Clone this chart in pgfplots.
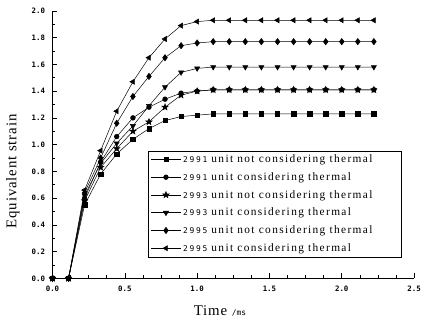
\documentclass[border=0pt]{standalone}
\usepackage{fontspec}
\setmainfont{Liberation Serif}
\newfontfamily\tickfont{DejaVu Sans Mono}
\newfontfamily\legnum{DejaVu Sans Mono}[LetterSpace=22]
\newfontfamily\legtext{Liberation Serif}[LetterSpace=12]
\newfontfamily\labfont{Liberation Serif}[LetterSpace=6]
\usepackage{pgfplots}
\pgfplotsset{compat=1.18}
\usetikzlibrary{plotmarks}

\pgfdeclareplotmark{fstar}{%
  \pgfpathmoveto{\pgfpointpolar{90}{\pgfplotmarksize}}%
  \pgfpathlineto{\pgfpointpolar{126}{0.42\pgfplotmarksize}}%
  \pgfpathlineto{\pgfpointpolar{162}{\pgfplotmarksize}}%
  \pgfpathlineto{\pgfpointpolar{198}{0.42\pgfplotmarksize}}%
  \pgfpathlineto{\pgfpointpolar{234}{\pgfplotmarksize}}%
  \pgfpathlineto{\pgfpointpolar{270}{0.42\pgfplotmarksize}}%
  \pgfpathlineto{\pgfpointpolar{306}{\pgfplotmarksize}}%
  \pgfpathlineto{\pgfpointpolar{342}{0.42\pgfplotmarksize}}%
  \pgfpathlineto{\pgfpointpolar{18}{\pgfplotmarksize}}%
  \pgfpathlineto{\pgfpointpolar{54}{0.42\pgfplotmarksize}}%
  \pgfpathclose
  \pgfusepathqfillstroke
}

\pgfplotstableread{
t      s1    s2    s3    s4    s5    s6
0.000  0.00  0.00  0.00  0.00  0.00  0.00
0.111  0.00  0.00  0.00  0.00  0.00  0.00
0.222  0.55  0.60  0.58  0.62  0.64  0.66
0.333  0.78  0.87  0.83  0.86  0.90  0.955
0.444  0.93  1.06  0.97  1.01  1.16  1.25
0.556  1.04  1.20  1.10  1.14  1.36  1.47
0.667  1.12  1.28  1.17  1.29  1.51  1.65
0.778  1.18  1.34  1.28  1.43  1.65  1.79
0.889  1.21  1.385 1.37  1.54  1.74  1.89
1.000  1.22  1.40  1.40  1.57  1.76  1.92
1.111  1.23  1.41  1.41  1.58  1.77  1.93
1.222  1.23  1.41  1.41  1.58  1.77  1.93
1.333  1.23  1.41  1.41  1.58  1.77  1.93
1.444  1.23  1.41  1.41  1.58  1.77  1.93
1.556  1.23  1.41  1.41  1.58  1.77  1.93
1.667  1.23  1.41  1.41  1.58  1.77  1.93
1.778  1.23  1.41  1.41  1.58  1.77  1.93
1.889  1.23  1.41  1.41  1.58  1.77  1.93
2.000  1.23  1.41  1.41  1.58  1.77  1.93
2.111  1.23  1.41  1.41  1.58  1.77  1.93
2.222  1.23  1.41  1.41  1.58  1.77  1.93
}\datatable

\begin{document}
\begin{tikzpicture}
\begin{axis}[
  scale only axis, width=365bp, height=270bp,
  xmin=0, xmax=2.5, ymin=0, ymax=2.0,
  axis x line*=bottom, axis y line*=left,
  axis line style={line width=0.8bp, -},
  xtick={0,0.5,1.0,1.5,2.0,2.5},
  ytick={0,0.2,0.4,0.6,0.8,1.0,1.2,1.4,1.6,1.8,2.0},
  minor x tick num=3, minor y tick num=1,
  tick align=inside,
  major tick length=5bp, minor tick length=3bp,
  tick style={black, line width=0.6bp},
  /pgf/number format/.cd, fixed, fixed zerofill, precision=1, assume math mode=true,
  /pgfplots/.cd,
  ticklabel style={font=\tickfont\bfseries\fontsize{7.5}{8}\selectfont},
  yticklabel style={xshift=-4bp},
  xticklabel style={yshift=-4bp},
  xlabel={\labfont Time {\tickfont\fontsize{8}{9}\selectfont/ms}},
  ylabel={\labfont Equivalent strain},
  label style={font=\fontsize{15}{17}\selectfont},
  xlabel style={at={(axis description cs:0.463,-0.137)}, anchor=base},
  ylabel style={at={(axis description cs:-0.11,0.40)}, anchor=center},
  legend style={at={(axis description cs:0.263,0.478)}, anchor=north west,
    draw=black, line width=0.6bp, fill=white,
    font=\legtext\fontsize{11.5}{13}\selectfont, row sep=4.5bp},
  legend cell align=left,
  legend image code/.code={\draw[mark repeat=2,mark phase=2,#1] plot coordinates {(0bp,0bp)(15bp,0bp)(30bp,0bp)};},
]
\addplot[black, line width=0.5bp, mark=square*, mark size=2.2bp, mark options={solid,fill=black}] table[x=t,y=s1]{\datatable};
\addlegendentry{{\legnum\fontsize{8}{9}\selectfont 2991} unit not considering thermal\hspace*{24bp}}
\addplot[black, line width=0.5bp, mark=*, mark size=2.4bp, mark options={solid,fill=black}] table[x=t,y=s2]{\datatable};
\addlegendentry{{\legnum\fontsize{8}{9}\selectfont 2991} unit considering thermal}
\addplot[black, line width=0.5bp, mark=fstar, mark size=3.4bp, mark options={solid,fill=black}] table[x=t,y=s3]{\datatable};
\addlegendentry{{\legnum\fontsize{8}{9}\selectfont 2993} unit not considering thermal}
\addplot[black, line width=0.5bp, mark=triangle*, mark size=3bp, mark options={solid,fill=black,rotate=180}] table[x=t,y=s4]{\datatable};
\addlegendentry{{\legnum\fontsize{8}{9}\selectfont 2993} unit considering thermal}
\addplot[black, line width=0.5bp, mark=diamond*, mark size=3.2bp, mark options={solid,fill=black}] table[x=t,y=s5]{\datatable};
\addlegendentry{{\legnum\fontsize{8}{9}\selectfont 2995} unit not considering thermal}
\addplot[black, line width=0.5bp, mark=triangle*, mark size=3bp, mark options={solid,fill=black,rotate=90}] table[x=t,y=s6]{\datatable};
\addlegendentry{{\legnum\fontsize{8}{9}\selectfont 2995} unit considering thermal}
\end{axis}
\pgfresetboundingbox
\path (-53bp,-49bp) rectangle (373bp,281bp);
\end{tikzpicture}
\end{document}
